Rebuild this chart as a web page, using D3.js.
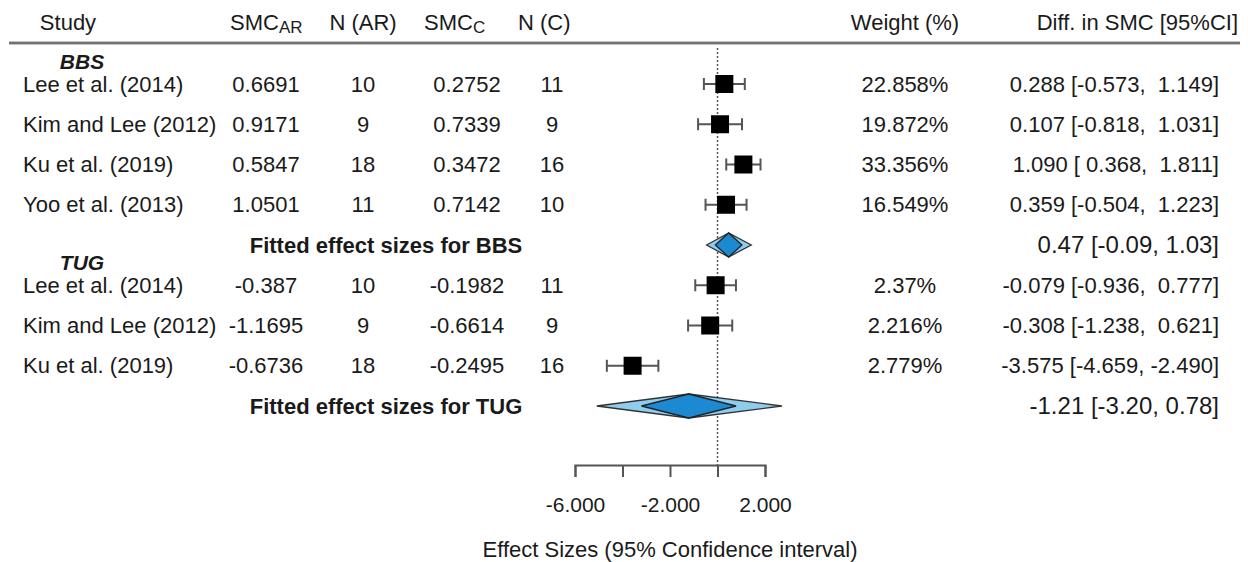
<!doctype html>
<html>
<head>
<meta charset="UTF-8">
<script src="https://cdn.jsdelivr.net/npm/d3@7"></script>
<style>
  body { margin: 0; background: #fff; }
  text { font-family: "Liberation Sans", Arial, sans-serif; fill: #1a1a1a; }
</style>
</head>
<body>
<svg id="chart"></svg>
<script>
// data
var bbsStudies = ["Lee et al. (2014)", "Kim and Lee (2012)", "Ku et al. (2019)", "Yoo et al. (2013)"];
var bbsSmcAR = ["0.6691", "0.9171", "0.5847", "1.0501"];
var bbsNAR = [10, 9, 18, 11];
var bbsSmcC = ["0.2752", "0.7339", "0.3472", "0.7142"];
var bbsNC = [11, 9, 16, 10];
var bbsWeight = ["22.858%", "19.872%", "33.356%", "16.549%"];
var bbsEst = [0.288, 0.107, 1.090, 0.359];
var bbsLo = [-0.573, -0.818, 0.368, -0.504];
var bbsHi = [1.149, 1.031, 1.811, 1.223];

var tugStudies = ["Lee et al. (2014)", "Kim and Lee (2012)", "Ku et al. (2019)"];
var tugSmcAR = ["-0.387", "-1.1695", "-0.6736"];
var tugNAR = [10, 9, 18];
var tugSmcC = ["-0.1982", "-0.6614", "-0.2495"];
var tugNC = [11, 9, 16];
var tugWeight = ["2.37%", "2.216%", "2.779%"];
var tugEst = [-0.079, -0.308, -3.575];
var tugLo = [-0.936, -1.238, -4.659];
var tugHi = [0.777, 0.621, -2.490];

var pooledLabels = ["Fitted effect sizes for BBS", "Fitted effect sizes for TUG"];
var pooledEst = [0.47, -1.21];
var pooledLo = [-0.09, -3.20];
var pooledHi = [1.03, 0.78];
var pooledPiLo = [-0.46, -5.08];   // prediction interval (light diamond)
var pooledPiHi = [1.42, 2.71];

var groupLabels = ["BBS", "TUG"];
var xTicks = [-6, -4, -2, 0, 2];
var xTickLabels = ["-6.000", "", "-2.000", "", "2.000"];

var width = 1248, height = 562;

var svg = d3.select("#chart").attr("width", width).attr("height", height);

var x = d3.scaleLinear().domain([-6, 2]).range([575, 765]);
var y = d3.scaleLinear().domain([0, 8]).range([84, 406]);

// build row table
var rows = [];
bbsStudies.forEach(function(s, i) {
    rows.push({type: "study", name: s, ar: bbsSmcAR[i], nar: bbsNAR[i], c: bbsSmcC[i], nc: bbsNC[i],
               w: bbsWeight[i], est: bbsEst[i], lo: bbsLo[i], hi: bbsHi[i]});
});
rows.push({type: "pooled", g: 0});
tugStudies.forEach(function(s, i) {
    rows.push({type: "study", name: s, ar: tugSmcAR[i], nar: tugNAR[i], c: tugSmcC[i], nc: tugNC[i],
               w: tugWeight[i], est: tugEst[i], lo: tugLo[i], hi: tugHi[i]});
});
rows.push({type: "pooled", g: 1});
rows.forEach(function(r, i) { r.i = i; });

function pad(v) {
    var s = v.toFixed(3);
    while (s.length < 6) s = " " + s;
    return s;
}

// header
var hy = 22;
var header = svg.append("g").attr("font-size", 22);
header.append("text").attr("x", 68).attr("y", hy).attr("dy", "0.35em").attr("text-anchor", "middle").text("Study");
var t1 = header.append("text").attr("x", 230).attr("y", hy).attr("dy", "0.35em");
t1.append("tspan").text("SMC");
t1.append("tspan").attr("font-size", 17).attr("dy", 3).text("AR");
header.append("text").attr("x", 363).attr("y", hy).attr("dy", "0.35em").attr("text-anchor", "middle").text("N (AR)");
var t2 = header.append("text").attr("x", 424).attr("y", hy).attr("dy", "0.35em");
t2.append("tspan").text("SMC");
t2.append("tspan").attr("font-size", 17).attr("dy", 3).text("C");
header.append("text").attr("x", 518).attr("y", hy).attr("dy", "0.35em").text("N (C)");
header.append("text").attr("x", 905).attr("y", hy).attr("dy", "0.35em").attr("text-anchor", "middle").text("Weight (%)");
header.append("text").attr("x", 1238).attr("y", hy).attr("dy", "0.35em").attr("text-anchor", "end").text("Diff. in SMC [95%CI]");

svg.append("line").attr("x1", 9).attr("x2", 1240).attr("y1", 43).attr("y2", 43)
    .attr("stroke", "#8a8a8a").attr("stroke-width", 3);
svg.append("line").attr("x1", 9).attr("x2", 1240).attr("y1", 43).attr("y2", 43)
    .attr("stroke", "#5a5a5a").attr("stroke-width", 1);

// reference line at zero
svg.append("line").attr("x1", x(0)).attr("x2", x(0)).attr("y1", 48).attr("y2", 466)
    .attr("stroke", "#555").attr("stroke-width", 1.5).attr("stroke-dasharray", "2,2");

// group labels
svg.selectAll(".grp").data(groupLabels).enter().append("text")
    .attr("class", "grp")
    .attr("x", 82)
    .attr("y", function(d, i) { return i === 0 ? y(0) - 22 : y(5) - 23; })
    .attr("dy", "0.35em")
    .attr("text-anchor", "middle")
    .attr("font-size", 21).attr("font-weight", "bold").attr("font-style", "italic")
    .text(function(d) { return d; });

var studyRows = rows.filter(function(r) { return r.type === "study"; });
var pooledRows = rows.filter(function(r) { return r.type === "pooled"; });

var tg = svg.append("g").attr("font-size", 22);
function col(key, xpos, anchor) {
    tg.selectAll(null).data(studyRows).enter().append("text")
        .attr("x", xpos).attr("y", function(d) { return y(d.i); })
        .attr("dy", "0.35em").attr("text-anchor", anchor)
        .text(function(d) { return d[key]; });
}
col("name", 23, "start");
col("ar", 266, "middle");
col("nar", 363, "middle");
col("c", 467, "middle");
col("nc", 552, "middle");
col("w", 905, "middle");

tg.selectAll(null).data(studyRows).enter().append("text")
    .attr("x", 1219).attr("y", function(d) { return y(d.i); })
    .attr("dy", "0.35em").attr("text-anchor", "end")
    .attr("xml:space", "preserve").style("white-space", "pre")
    .text(function(d) { return d.est.toFixed(3) + " [" + pad(d.lo) + ", " + pad(d.hi) + "]"; });

tg.selectAll(null).data(pooledRows).enter().append("text")
    .attr("x", 386).attr("y", function(d) { return y(d.i); })
    .attr("dy", "0.35em").attr("text-anchor", "middle").attr("font-weight", "bold")
    .text(function(d) { return pooledLabels[d.g]; });

tg.selectAll(null).data(pooledRows).enter().append("text")
    .attr("x", 1219).attr("y", function(d) { return y(d.i); })
    .attr("dy", "0.35em").attr("text-anchor", "end").attr("font-size", 24)
    .text(function(d) {
        return pooledEst[d.g].toFixed(2) + " [" + pooledLo[d.g].toFixed(2) + ", " + pooledHi[d.g].toFixed(2) + "]";
    });

// study CIs and squares
var marks = svg.append("g");
var ci = marks.selectAll(".ci").data(studyRows).enter().append("g").attr("class", "ci")
    .attr("stroke", "#555").attr("stroke-width", 2);
ci.append("line")
    .attr("x1", function(d) { return x(d.lo); }).attr("x2", function(d) { return x(d.hi); })
    .attr("y1", function(d) { return y(d.i); }).attr("y2", function(d) { return y(d.i); });
ci.append("line")
    .attr("x1", function(d) { return x(d.lo); }).attr("x2", function(d) { return x(d.lo); })
    .attr("y1", function(d) { return y(d.i) - 6; }).attr("y2", function(d) { return y(d.i) + 6; });
ci.append("line")
    .attr("x1", function(d) { return x(d.hi); }).attr("x2", function(d) { return x(d.hi); })
    .attr("y1", function(d) { return y(d.i) - 6; }).attr("y2", function(d) { return y(d.i) + 6; });

var sq = 18;
marks.selectAll(".sq").data(studyRows).enter().append("rect").attr("class", "sq")
    .attr("x", function(d) { return x(d.est) - sq / 2; })
    .attr("y", function(d) { return y(d.i) - sq / 2; })
    .attr("width", sq).attr("height", sq)
    .attr("fill", "#000");

// pooled diamonds
var dh = 12;
marks.selectAll(".pi").data(pooledRows).enter().append("polygon").attr("class", "pi")
    .attr("points", function(d) {
        var cy = y(d.i), g = d.g;
        return [[x(pooledPiLo[g]), cy], [x(pooledEst[g]), cy - dh], [x(pooledPiHi[g]), cy], [x(pooledEst[g]), cy + dh]].join(" ");
    })
    .attr("fill", "#8fcdef").attr("stroke", "#333").attr("stroke-width", 1.3);
marks.selectAll(".dm").data(pooledRows).enter().append("polygon").attr("class", "dm")
    .attr("points", function(d) {
        var cy = y(d.i), g = d.g;
        return [[x(pooledLo[g]), cy], [x(pooledEst[g]), cy - dh], [x(pooledHi[g]), cy], [x(pooledEst[g]), cy + dh]].join(" ");
    })
    .attr("fill", "#1b8ad3").attr("stroke", "#222").attr("stroke-width", 1.3);

// axis
var axis = d3.axisBottom(x)
    .tickValues(xTicks)
    .tickFormat(function(d, i) { return xTickLabels[i]; })
    .tickSize(12).tickSizeOuter(12).tickPadding(20);
var ag = svg.append("g").attr("transform", "translate(0,465)").call(axis);
ag.select(".domain").attr("stroke", "#555").attr("stroke-width", 2);
ag.selectAll(".tick line").attr("stroke", "#555").attr("stroke-width", 2);
ag.selectAll(".tick text").attr("font-size", 21).attr("font-family", "Liberation Sans, Arial, sans-serif")
    .attr("fill", "#1a1a1a");

svg.append("text").attr("x", x(-2)).attr("y", 549).attr("dy", "0.35em")
    .attr("text-anchor", "middle").attr("font-size", 22)
    .text("Effect Sizes (95% Confidence interval)");
</script>
</body>
</html>
